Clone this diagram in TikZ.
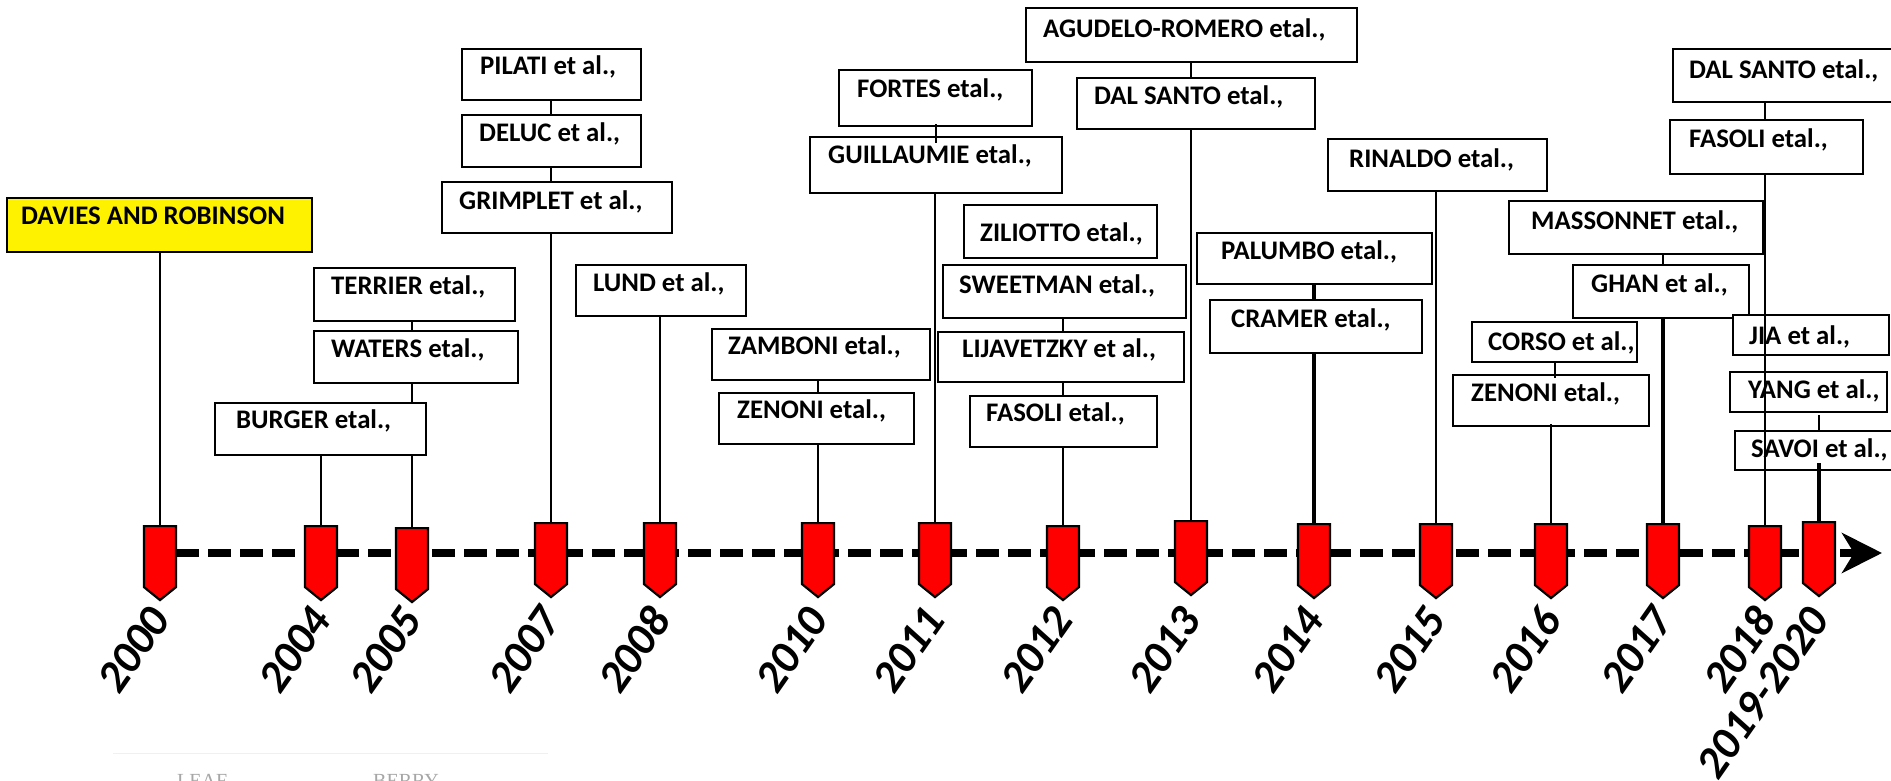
\documentclass[tikz,border=0pt]{standalone}
\usepackage{fontspec}
\setmainfont{Carlito}
\newfontfamily\fadedserif{Liberation Serif}
\usetikzlibrary{shapes.symbols,arrows.meta,backgrounds,calc}

\tikzset{
  studyframe/.style={draw=black, line width=2.2pt, fill=white, inner sep=0pt},
  studytext/.style={font=\fontsize{26.8}{30}\selectfont\bfseries, inner sep=0pt},
  conn/.style={draw=black, line width=2pt},
  thickconn/.style={draw=black, line width=3.4pt},
  marker/.style={shape=signal, signal to=south, signal pointer angle=102,
    draw=black, line width=2.2pt, fill=red, minimum width=32pt,
    minimum height=61pt, inner sep=0pt, anchor=north},
  yearlabel/.style={font=\fontsize{45}{50}\selectfont\bfseries\itshape,
    rotate=55, anchor=east, inner sep=0pt},
  timeline/.style={line width=8pt, dash pattern=on 23pt off 9pt,
    -{Stealth[length=40pt,width=40pt,inset=12pt]}},
}

% #1 extra style, #2 name, #3 x, #4 y (top), #5 width, #6 height,
% #7 text indent, #8 baseline drop, #9 text
\newcommand\studybox[9][]{%
  \node[studyframe, #1, minimum width=#5pt, minimum height=#6pt,
        anchor=north west] (#2) at (#3,#4) {};
  \node[studytext, anchor=base west] (#2-txt)
        at ([xshift=#7pt, yshift=-#8pt]#2.north west) {#9};}

\begin{document}
\begin{tikzpicture}[x=1pt, y=-1pt]
\clip (0,0) rectangle (1891,780);

% year markers on the time axis
\foreach \yr/\x/\t in {2000/160/525, 2004/321/525, 2005/412/527,
    2007/551/522, 2008/660/522, 2010/818/522, 2011/935/522,
    2012/1063/525, 2013/1191/520, 2014/1314/523, 2015/1436/523,
    2016/1551/523, 2017/1663/523, 2018/1765/525, 2019/1819/521}
  \node[marker] (m\yr) at (\x,\t) {};

% rotated year labels
\foreach \yr/\x/\lab in {2000/160/2000, 2004/321/2004, 2005/412/2005,
    2007/551/2007, 2008/660/2008, 2010/818/2010, 2011/935/2011,
    2012/1063/2012, 2013/1191/2013, 2014/1314/2014, 2015/1436/2015,
    2016/1551/2016, 2017/1663/2017, 2018/1765/2018, 2019/1819/2019-2020}
  \node[yearlabel] (y\yr) at (\x,612) {\lab};

% study boxes
\studybox[fill=yellow]{davies}{6}{197}{305}{54}{15}{27}{DAVIES AND ROBINSON}
\studybox{terrier}{313}{267}{201}{53}{18}{27}{TERRIER etal.,}
\studybox{waters}{313}{330}{204}{52}{18}{27}{WATERS etal.,}
\studybox{burger}{214}{402}{211}{52}{22}{26}{BURGER etal.,}
\studybox{pilati}{461}{48}{179}{51}{19}{26}{PILATI et al.,}
\studybox{deluc}{461}{114}{179}{52}{18}{27}{DELUC et al.,}
\studybox{grimplet}{441}{181}{230}{51}{18}{28}{GRIMPLET et al.,}
\studybox{lund}{575}{264}{170}{51}{18}{27}{LUND et al.,}
\studybox{zamboni}{711}{328}{218}{51}{17}{26}{ZAMBONI etal.,}
\studybox{zenoniA}{718}{392}{195}{51}{19}{26}{ZENONI etal.,}
\studybox{fortes}{838}{69}{193}{56}{19}{28}{FORTES etal.,}
\studybox{guillaumie}{809}{136}{252}{56}{19}{27}{GUILLAUMIE etal.,}
\studybox{ziliotto}{963}{204}{193}{53}{17}{37}{ZILIOTTO etal.,}
\studybox{sweetman}{942}{264}{243}{53}{17}{29}{SWEETMAN etal.,}
\studybox{lijavetzky}{937}{331}{246}{50}{25}{26}{LIJAVETZKY et al.,}
\studybox{fasoliA}{969}{395}{187}{51}{17}{26}{FASOLI etal.,}
\studybox{agudelo}{1025}{7}{331}{54}{18}{30}{AGUDELO-ROMERO etal.,}
\studybox{dalsantoA}{1076}{77}{238}{51}{18}{27}{DAL SANTO etal.,}
\studybox{palumbo}{1196}{232}{235}{51}{25}{27}{PALUMBO etal.,}
\studybox{cramer}{1209}{299}{212}{53}{22}{28}{CRAMER etal.,}
\studybox{rinaldo}{1327}{138}{219}{52}{22}{29}{RINALDO etal.,}
\studybox{corso}{1471}{321}{165}{40}{17}{29}{CORSO et al.,}
\studybox{zenoniB}{1452}{374}{196}{51}{19}{27}{ZENONI etal.,}
\studybox{massonnet}{1508}{200}{254}{53}{23}{29}{MASSONNET etal.,}
\studybox{ghan}{1572}{264}{176}{53}{19}{28}{GHAN et al.,}
\studybox{dalsantoB}{1672}{48}{240}{53}{17}{30}{DAL SANTO etal.,}
\studybox{fasoliB}{1669}{119}{193}{54}{20}{28}{FASOLI etal.,}
\studybox{jia}{1732}{314}{156}{40}{17}{30}{JIA et al.,}
\studybox{yang}{1729}{371}{157}{40}{19}{27}{YANG et al.,}
\studybox{savoi}{1734}{430}{170}{39}{17}{27}{SAVOI et al.,}

% white page, connectors hidden behind the boxes, and the dashed time axis
\begin{pgfonlayer}{background}
  \fill[white] (0,0) rectangle (1891,780);
  \coordinate (axisstart) at (176,553);
  \coordinate (axisend) at (1882,553);
  \draw[timeline] (axisstart) -- (axisend);
  \draw[conn] (davies.south -| m2000.north) -- (m2000.north);
  \draw[conn] (burger.south -| m2004.north) -- (m2004.north);
  \draw[conn] (terrier.south -| m2005.north) -- (waters.north -| m2005.north);
  \draw[conn] (waters.south -| m2005.north) -- (m2005.north);
  \draw[conn] (pilati.south -| m2007.north) -- (deluc.north -| m2007.north);
  \draw[conn] (deluc.south -| m2007.north) -- (grimplet.north -| m2007.north);
  \draw[conn] (grimplet.south -| m2007.north) -- (m2007.north);
  \draw[conn] (lund.south -| m2008.north) -- (m2008.north);
  \draw[conn] (zamboni.south -| m2010.north) -- (zenoniA.north -| m2010.north);
  \draw[conn] (zenoniA.south -| m2010.north) -- (m2010.north);
  \draw[conn] (guillaumie.south -| m2011.north) -- (m2011.north);
  \draw[conn] (sweetman.south -| m2012.north) -- (lijavetzky.north -| m2012.north);
  \draw[conn] (lijavetzky.south -| m2012.north) -- (fasoliA.north -| m2012.north);
  \draw[conn] (fasoliA.south -| m2012.north) -- (m2012.north);
  \draw[conn] (agudelo.south -| m2013.north) -- (dalsantoA.north -| m2013.north);
  \draw[conn] (dalsantoA.south -| m2013.north) -- (m2013.north);
  \draw[thickconn] (palumbo.south -| m2014.north) -- (cramer.north -| m2014.north);
  \draw[thickconn] (cramer.south -| m2014.north) -- (m2014.north);
  \draw[conn] (rinaldo.south -| m2015.north) -- (m2015.north);
  \draw[conn] (massonnet.south -| m2017.north) -- (ghan.north -| m2017.north);
  \draw[thickconn] (ghan.south -| m2017.north) -- (m2017.north);
  \draw[conn] (dalsantoB.south -| m2018.north) -- (fasoliB.north -| m2018.north);
\end{pgfonlayer}

% connectors that run over the boxes
\draw[conn] ([yshift=3pt]fortes.south) -- ([yshift=-7pt]fortes.south |- guillaumie.north);
\draw[conn] (corso.south) -- ([yshift=-4pt]corso.south |- zenoniB.north);
\draw[conn] ([yshift=3pt]zenoniB.south -| m2016.north) -- (m2016.north);
\draw[conn] (fasoliB.south -| m2018.north) -- (m2018.north);
\draw[conn] ([yshift=-2pt]yang.south -| m2019.north) -- (savoi.north -| m2019.north);
\draw[thickconn] ([yshift=8pt]savoi.south -| m2019.north) -- (m2019.north);

% faded caption fragments along the lower edge
\draw[gray!12, line width=1pt] (113,753) -- (548,753);
\node[font=\fadedserif\fontsize{20}{24}\selectfont, text=gray!70, anchor=base west,
      inner sep=0pt] (leafcap) at (177,787) {LEAF};
\node[font=\fadedserif\fontsize{20}{24}\selectfont, text=gray!70, anchor=base west,
      inner sep=0pt] (berrycap) at (373,787) {BERRY};
\end{tikzpicture}
\end{document}
